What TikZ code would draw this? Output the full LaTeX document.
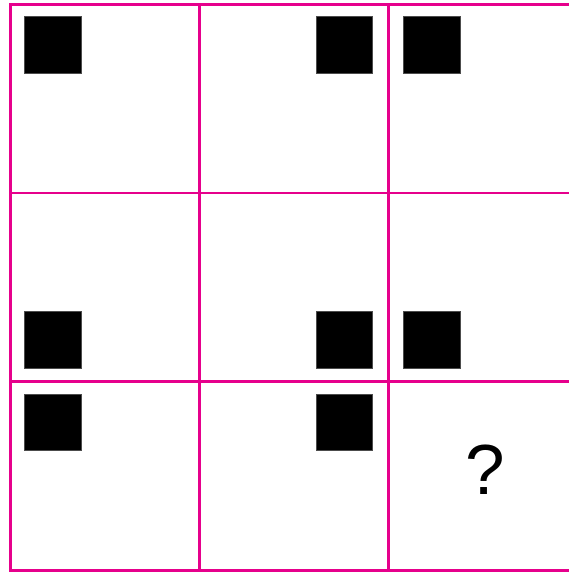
\documentclass[tikz,border=0pt]{standalone}
\usepackage{fontspec}
\setmainfont{Liberation Sans}
\definecolor{gridpink}{RGB}{230,0,140}
\begin{document}
\begin{tikzpicture}[x=1pt,y=-1pt,
  cell/.style={draw=gridpink,line width=2.8pt,minimum width=189pt,minimum height=188.67pt,inner sep=0pt,anchor=north west},
  blk/.style={fill=black,draw=black!70,line width=0.4pt,minimum size=56.5pt,inner sep=0pt,anchor=north west}]
\useasboundingbox (0,0) rectangle (568,572);
\fill[white] (0,0) rectangle (568,572);
% cells
\node[cell] (c11) at (9,3) {};
\node[cell] (c12) at (198,3) {};
\node[cell] (c13) at (387,3) {};
\node[cell] (c21) at (9,191.67) {};
\node[cell] (c22) at (198,191.67) {};
\node[cell] (c23) at (387,191.67) {};
\node[cell] (c31) at (9,380.33) {};
\node[cell] (c32) at (198,380.33) {};
\node[cell] (c33) at (387,380.33) {};
% black squares
\node[blk] (s11) at (24,16.5) {};
\node[blk] (s12) at (315.5,16.5) {};
\node[blk] (s13) at (403,16.5) {};
\node[blk] (s21) at (24,311) {};
\node[blk] (s22) at (315.5,311) {};
\node[blk] (s23) at (403,311) {};
\node[blk] (s31) at (24,393.5) {};
\node[blk] (s32) at (315.5,393.5) {};
% question mark
\node[inner sep=0pt,font=\fontsize{71}{71}\selectfont] (q) at (485.5,469.5) {?};
\end{tikzpicture}
\end{document}
